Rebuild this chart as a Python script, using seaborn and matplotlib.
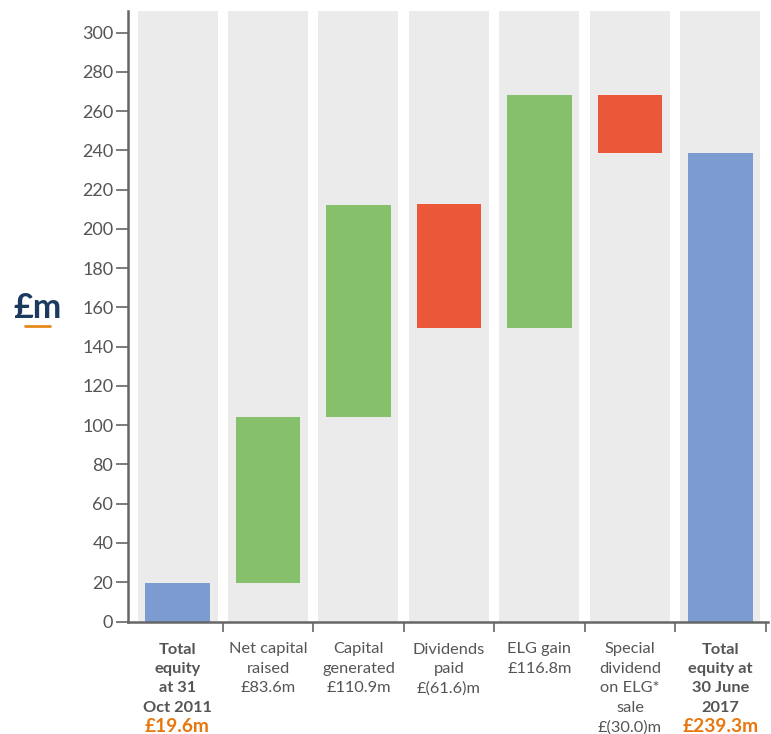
import matplotlib
matplotlib.use("Agg")
import matplotlib.pyplot as plt
import seaborn as sns
import pandas as pd
from matplotlib.lines import Line2D

# ---- data ----
categories = ["Total equity at 31 Oct 2011", "Net capital raised", "Capital generated",
              "Dividends paid", "ELG gain", "Special dividend on ELG* sale",
              "Total equity at 30 June 2017"]
bar_bottoms = [0, 19.6, 104.0, 149.5, 149.5, 238.6, 0]
bar_tops = [19.6, 104.2, 212.4, 212.7, 268.2, 268.2, 238.6]
bar_kinds = ["total", "up", "up", "down", "up", "down", "total"]
label_lines = [
    ["Total", "equity", "at 31", "Oct 2011"],
    ["Net capital", "raised"],
    ["Capital", "generated"],
    ["Dividends", "paid"],
    ["ELG gain"],
    ["Special", "dividend", "on ELG*", "sale"],
    ["Total", "equity at", "30 June", "2017"],
]
value_labels = ["£19.6m", "£83.6m", "£110.9m", "£(61.6)m", "£116.8m", "£(30.0)m", "£239.3m"]
highlight = [True, False, False, False, False, False, True]
y_ticks = list(range(0, 301, 20))
y_max = 311

kind_colors = {"total": "#7B9BD1", "up": "#87C06A", "down": "#EB5739"}
gray = "#EBEBEB"
text_gray = "#555555"
orange = "#E8770F"
navy = "#1B3A5E"

df = pd.DataFrame({"cat": categories, "bottom": bar_bottoms, "top": bar_tops, "kind": bar_kinds})
df["bg"] = y_max

sns.set_theme(style="white")
plt.rcParams["font.family"] = ["Lato", "DejaVu Sans"]

fig = plt.figure(figsize=(7.71, 7.34), dpi=100)
ax = fig.add_axes([128 / 771, 1 - 621.5 / 734, 640 / 771, (621.5 - 11) / 734])

# background columns
sns.barplot(data=df, x="cat", y="bg", order=categories, color=gray, saturation=1,
            width=0.884, ax=ax, zorder=1)
# colored bars up to their tops
sns.barplot(data=df, x="cat", y="top", order=categories, hue="cat", hue_order=categories,
            palette=[kind_colors[k] for k in bar_kinds], saturation=1, width=0.71,
            legend=False, ax=ax, zorder=2)
# mask the part below each bar's bottom
sns.barplot(data=df, x="cat", y="bottom", order=categories, color=gray, saturation=1,
            width=0.73, ax=ax, zorder=3)
for p in ax.patches:
    p.set_linewidth(0)

ax.set_ylim(0, y_max)
ax.set_xlim(-0.547, 6.525)
ax.set_yticks(y_ticks)
ax.set_yticklabels([str(t) for t in y_ticks])
ax.set_xticks([i + 0.5 for i in range(len(categories))])
ax.set_xticklabels([])
ax.set_xlabel("")
ax.set_ylabel("")

for s in ["top", "right"]:
    ax.spines[s].set_visible(False)
for s in ["left", "bottom"]:
    ax.spines[s].set_color("#666666")
    ax.spines[s].set_linewidth(1.8)
    ax.spines[s].set_zorder(5)

ax.tick_params(axis="y", length=8.6, width=1.2, color="#666666", pad=2,
               labelsize=13, labelcolor=text_gray, left=True)
ax.tick_params(axis="x", length=7.5, width=1.2, color="#666666", bottom=True)

# category labels
trans = ax.get_xaxis_transform()
pitch_pt = 19.5 * 0.72
first_pt = (653.5 - 621.5) * 0.72
for i in range(len(categories)):
    lines = label_lines[i] + [value_labels[i]]
    for j, line in enumerate(lines):
        is_val = j == len(lines) - 1
        hl = is_val and highlight[i]
        color = orange if hl else text_gray
        weight = "bold" if highlight[i] else "normal"
        size = 13.8 if hl else 11.8
        ax.annotate(line, xy=(i, 0), xycoords=trans,
                    xytext=(0, -(first_pt + j * pitch_pt)), textcoords="offset points",
                    ha="center", va="baseline", fontsize=size, color=color,
                    fontweight=weight, annotation_clip=False)

# £m label
fig.text(38 / 771, 1 - 318 / 734, "£m", ha="center", va="baseline", fontsize=24.5,
         fontweight="bold", color=navy)
fig.add_artist(Line2D([25 / 771, 50 / 771], [1 - 325.7 / 734] * 2, color="#E88A1A",
                      linewidth=2, transform=fig.transFigure))

fig.savefig("out.png", dpi=100)
